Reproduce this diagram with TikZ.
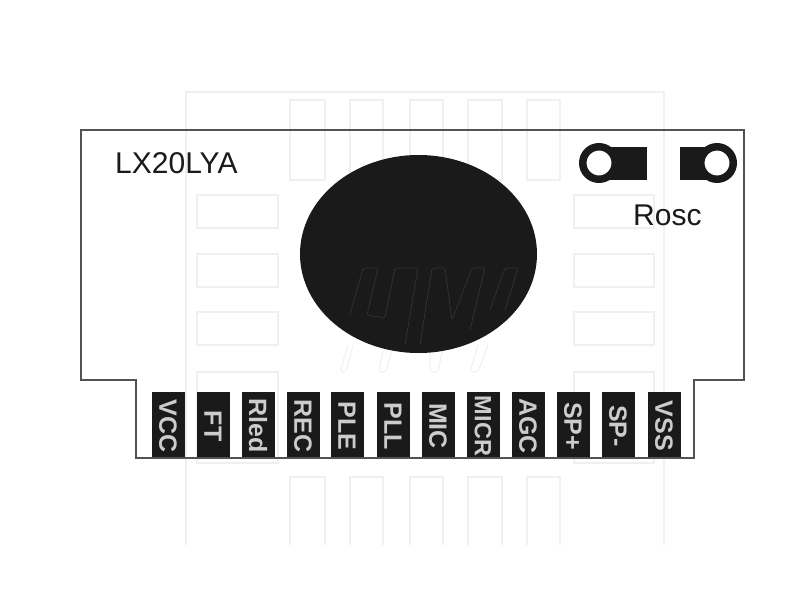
\documentclass[tikz,border=0pt]{standalone}
\usepackage{fontspec}
\setmainfont{Liberation Sans}
\definecolor{ink}{HTML}{1A1A1A}
\definecolor{wm}{HTML}{F0F0F0}
\definecolor{wmdark}{HTML}{333333}
\tikzset{
  x=1pt,y=-1pt,
  wmark/.style={draw=wm,line width=1.8pt},
  wmarkdark/.style={draw=wmdark,line width=.7pt},
  board/.style={draw=ink!75,line width=1.7pt,line join=miter},
  pinbox/.style={fill=ink,draw=none,minimum width=33pt,minimum height=65pt,inner sep=0pt},
  pinlab/.style={text=white!80!black,font=\bfseries\fontsize{25}{26}\selectfont,rotate=-90,inner sep=0pt},
  lab/.style={text=ink,font=\fontsize{30}{31}\selectfont,inner sep=0pt},
  padring/.style={circle,draw=ink,line width=7.5pt,fill=white,minimum size=32.5pt,inner sep=0pt}
}
\begin{document}
\begin{tikzpicture}
\useasboundingbox (0,0) rectangle (800,600);
\fill[white] (0,0) rectangle (800,600);
% watermark
\draw[wmark] (186,545) -- (186,92) -- (664,92) -- (664,545);
\foreach \x/\w in {290/35,350/33,410/33,468/34,527/33}{
  \draw[wmark] (\x,100) rectangle (\x+\w,180);
  \draw[wmark] (\x,545) -- (\x,477) -- (\x+\w,477) -- (\x+\w,545);
}
\foreach \y in {195,254,312}{
  \draw[wmark] (197,\y) rectangle (278,\y+33);
  \draw[wmark] (574,\y) rectangle (654,\y+33);
}
\draw[wmark] (197,372) rectangle (278,463);
\draw[wmark] (574,372) rectangle (654,463);
% watermark strokes under the blob
\begin{scope}[wmark,line width=1pt,rounded corners=3pt]
\draw (348,345) -- (340,372) -- (346,372) -- (353,345);
\draw (383,350) -- (379,372) -- (386,372) -- (392,350);
\draw (430,352) -- (430,372) -- (438,372) -- (442,352);
\draw (478,345) -- (470,372) -- (478,372) -- (488,345);
\end{scope}
% board
\draw[board] (81,130) -- (744,130) -- (744,380) -- (694,380) -- (694,458) -- (136,458) -- (136,380) -- (81,380) -- cycle;
% microphone blob
\fill[ink] (418.5,254) ellipse [x radius=118.5,y radius=99];
% watermark over blob
\begin{scope}[wmarkdark,rounded corners=2pt]
\draw (350,315) -- (363,268) -- (378,268) -- (367,315) -- (385,318) -- (395,268) -- (418,268) -- (405,345);
\draw (420,345) -- (432,268) -- (445,268) -- (452,320) -- (472,268) -- (485,268) -- (470,330);
\draw (490,310) -- (505,268) -- (518,268) -- (505,310);
\end{scope}
% Rosc pads
\fill[ink] (600,147) rectangle (647,180);
\fill[ink] (680,147) rectangle (718,180);
\node[padring] (p1) at (599,163) {};
\node[padring] (p2) at (717,163) {};
\node[lab,anchor=west] (rosc) at (633,215) {Rosc};
\node[lab,anchor=west] (name) at (115,163) {LX20LYA};
% pins
\foreach \i/\x/\t/\s in {vcc/168/VCC/1,ft/213/FT/1,rled/258/Rled/1,rec/303/REC/1,ple/347/PLE/1,pll/393/PLL/1,mic/438/MIC/1,micr/483/MICR/.94,agc/528/AGC/1,spp/573/SP+/1,spm/618/SP-/1,vss/664/VSS/1}{
  \node[pinbox] (b\i) at (\x,424.5) {};
  \node[pinlab,scale=\s] (l\i) at (\x,426) {\t};
}
\end{tikzpicture}
\end{document}
